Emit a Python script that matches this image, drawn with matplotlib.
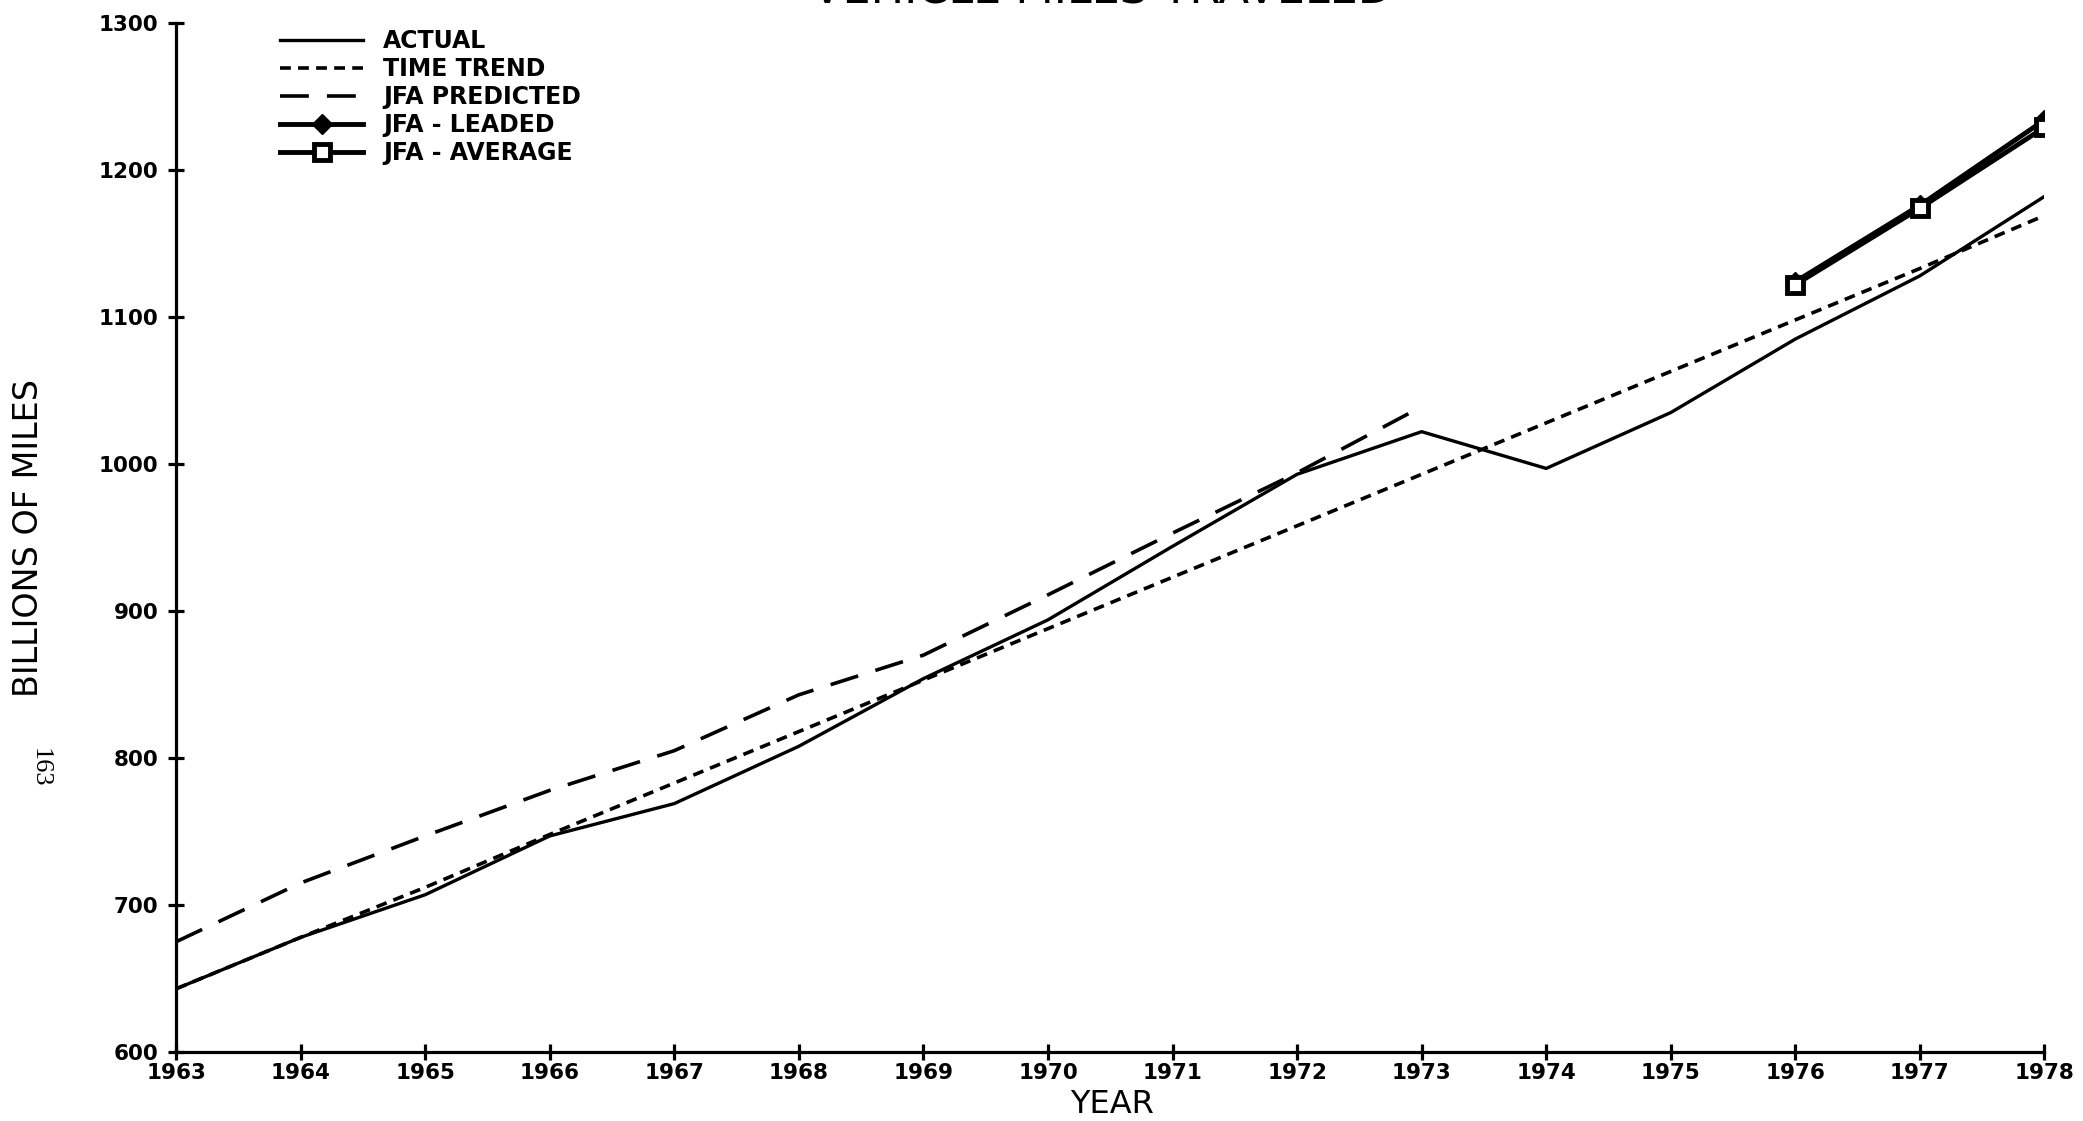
import matplotlib.pyplot as plt

years = list(range(1963, 1979))
actual = [643, 678, 707, 747, 769, 808, 854, 894, 944, 993, 1022, 997, 1035, 1085, 1128, 1182]
time_trend = [643, 678, 712, 748, 783, 818, 853, 888, 923, 958, 993, 1028, 1063, 1098, 1133, 1169]
pred_years = list(range(1963, 1974))
jfa_predicted = [675, 715, 747, 778, 805, 843, 870, 911, 953, 994, 1039]
lead_years = [1976, 1977, 1978]
jfa_leaded = [1124, 1176, 1234]
jfa_average = [1122, 1174, 1229]

plt.rcParams['font.family'] = ['DejaVu Sans']

fig = plt.figure(figsize=(20.83, 11.21), dpi=100)
ax = fig.add_axes([0.0845, 0.0615, 0.897, 0.918])

ax.plot(years, actual, color='black', lw=2.4, label='ACTUAL')
ax.plot(years, time_trend, color='black', lw=2.6, dashes=(3, 2), label='TIME TREND')
ax.plot(pred_years, jfa_predicted, color='black', lw=2.6, dashes=(8, 5), label='JFA PREDICTED')
ax.plot(lead_years, jfa_leaded, color='black', lw=3.5, marker='D', ms=10, label='JFA - LEADED')
ax.plot(lead_years, jfa_average, color='black', lw=3.5, marker='s', ms=11,
        mfc='white', mec='black', mew=3.5, label='JFA - AVERAGE')

ax.set_xlim(1963, 1978)
ax.set_ylim(600, 1300)
ax.set_xticks(years)
ax.set_yticks(range(600, 1301, 100))
ax.spines['top'].set_visible(False)
ax.spines['right'].set_visible(False)
ax.spines['left'].set_linewidth(2.3)
ax.spines['bottom'].set_linewidth(2.3)
ax.tick_params(direction='inout', length=11.5, width=2.3, labelsize=15.5)
for lbl in ax.get_xticklabels() + ax.get_yticklabels():
    lbl.set_fontweight('bold')
ax.tick_params(axis='x', pad=2)
ax.tick_params(axis='y', pad=7)

ax.set_xlabel('YEAR', fontsize=23, va='top')
ax.xaxis.set_label_coords(0.501, -0.036)
ax.set_ylabel('BILLIONS OF MILES', fontsize=24)
ax.yaxis.set_label_coords(-0.070, 0.5)

fig.text(0.529, 1 - 13 / 1121, 'VEHICLE MILES TRAVELED', ha='center', va='bottom', fontsize=32)
fig.text(0.019, 0.315, '163', rotation=-90, ha='center', va='center', fontsize=19,
         family=['Liberation Serif', 'DejaVu Serif'])

ax.legend(loc='upper left', bbox_to_anchor=(0.047, 1.01), frameon=False,
          handlelength=3.5, handletextpad=0.85, labelspacing=0.17, borderpad=0.2,
          prop={'weight': 'bold', 'size': 17})

fig.savefig('out.png', dpi=100)
